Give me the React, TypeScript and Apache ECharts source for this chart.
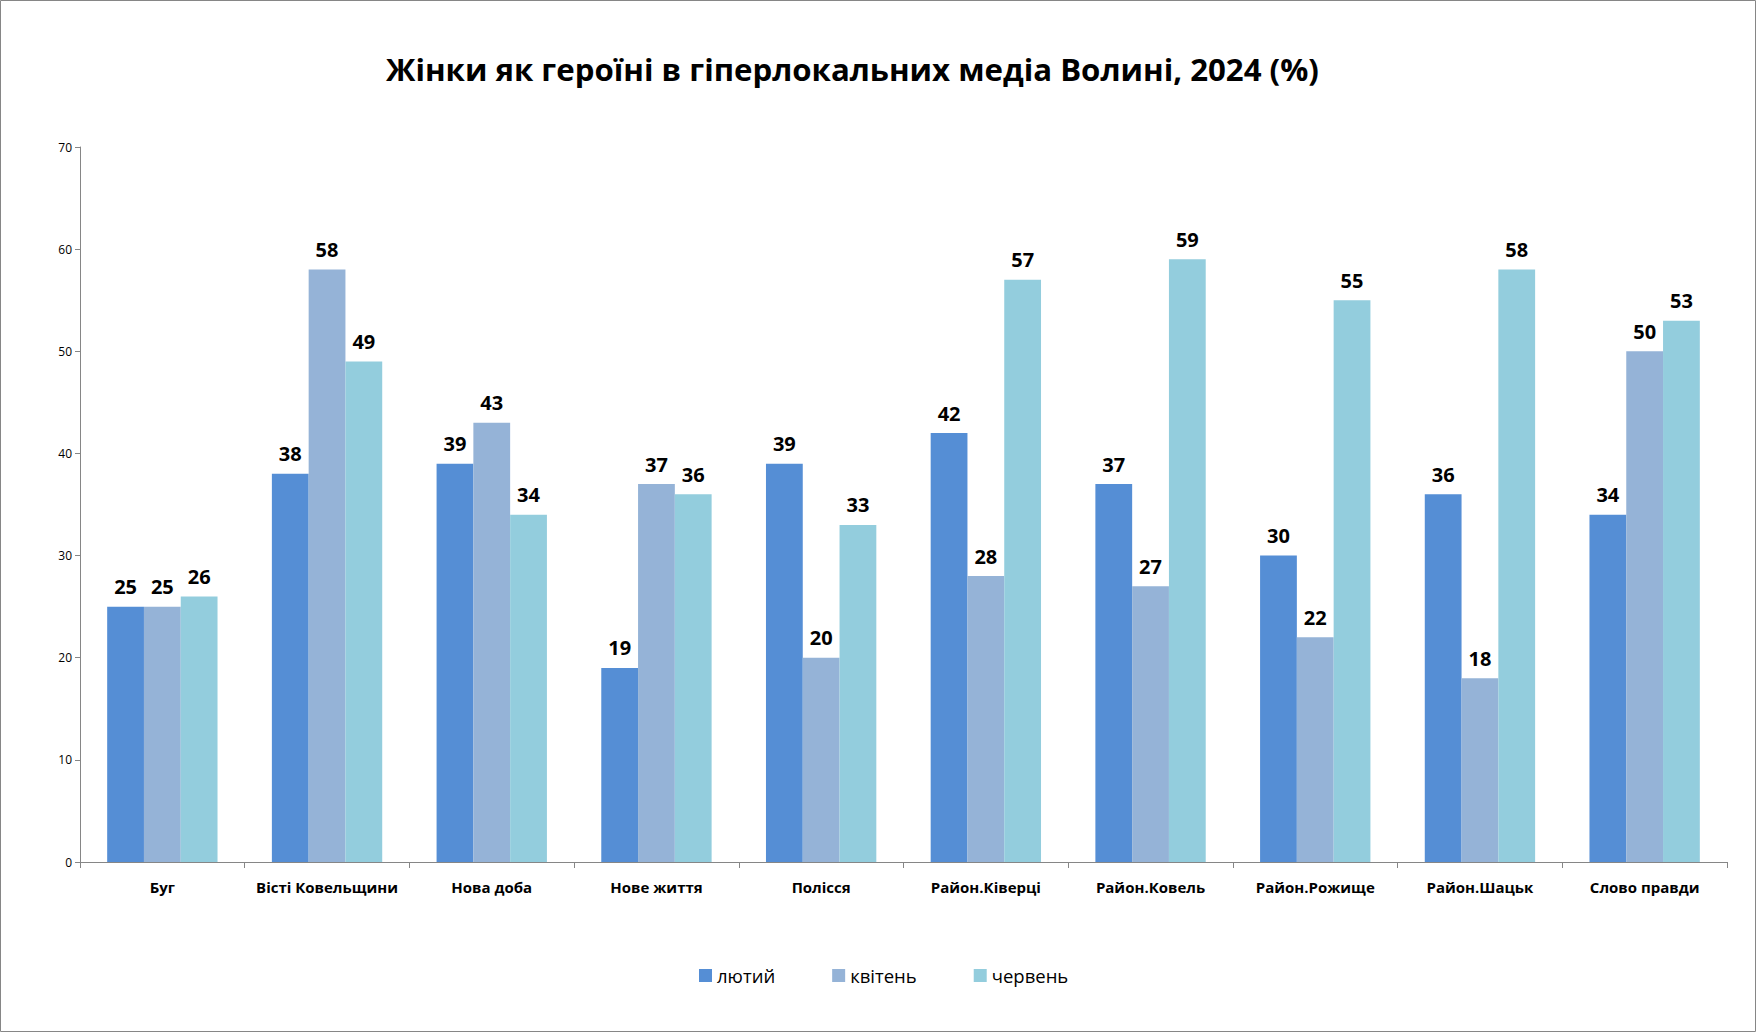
import React, { useEffect, useRef } from "react";
import * as echarts from "echarts";

const categories = [
  "Буг",
  "Вісті Ковельщини",
  "Нова доба",
  "Нове життя",
  "Полісся",
  "Район.Ківерці",
  "Район.Ковель",
  "Район.Рожище",
  "Район.Шацьк",
  "Слово правди",
];
const seriesNames = ["лютий", "квітень", "червень"];
const february = [25, 38, 39, 19, 39, 42, 37, 30, 36, 34];
const april = [25, 58, 43, 37, 20, 28, 27, 22, 18, 50];
const june = [26, 49, 34, 36, 33, 57, 59, 55, 58, 53];
const colors = ["#558ED5", "#95B3D7", "#93CDDD"];
const titleText = "Жінки як героїні в гіперлокальних медіа Волині, 2024 (%)";

const FONT = "'Open Sans', 'Noto Sans', sans-serif";

export default function App() {
  const ref = useRef<HTMLDivElement>(null);
  useEffect(() => {
    document.body.style.margin = "0";
    if (!ref.current) return;
    const chart = echarts.init(ref.current, null, { renderer: "svg" });
    const data = [february, april, june];
    chart.setOption({
      animation: false,
      backgroundColor: "#ffffff",
      title: {
        text: titleText,
        left: 381,
        top: 48,
        textStyle: {
          fontFamily: FONT,
          fontWeight: "bold",
          fontSize: 31.2,
          color: "#000000",
        },
      },
      graphic: [
        {
          type: "rect",
          shape: { x: 0.5, y: 0.5, width: 1755, height: 1031 },
          style: { fill: "none", stroke: "#868686", lineWidth: 1 },
          silent: true,
        },
      ],
      legend: {
        data: seriesNames,
        bottom: 42,
        left: 694,
        itemWidth: 13,
        itemHeight: 13,
        itemGap: 57,
        icon: "rect",
        textStyle: { fontFamily: FONT, fontSize: 18.5, color: "#000000" },
      },
      grid: { left: 80, right: 29, top: 147, bottom: 170, containLabel: false },
      xAxis: {
        type: "category",
        data: categories,
        axisLine: { lineStyle: { color: "#868686", width: 1 } },
        axisTick: { show: true, length: 6, alignWithLabel: false, lineStyle: { color: "#868686" } },
        axisLabel: {
          interval: 0,
          margin: 17,
          fontFamily: FONT,
          fontWeight: "bold",
          fontSize: 15,
          color: "#000000",
        },
      },
      yAxis: {
        type: "value",
        min: 0,
        max: 70,
        interval: 10,
        axisLine: { show: true, lineStyle: { color: "#868686", width: 1 } },
        axisTick: { show: true, length: 5, lineStyle: { color: "#868686" } },
        splitLine: { show: false },
        axisLabel: { fontFamily: FONT, fontSize: 12, color: "#000000", margin: 8 },
      },
      series: seriesNames.map((name, i) => ({
        name,
        type: "bar",
        data: data[i],
        barGap: "0%",
        barCategoryGap: "33%",
        itemStyle: { color: colors[i] },
        label: {
          show: true,
          position: "top",
          distance: 10,
          fontFamily: FONT,
          fontWeight: "bold",
          fontSize: 20,
          color: "#000000",
        },
      })),
    });
    return () => chart.dispose();
  }, []);
  return <div ref={ref} style={{ width: 1756, height: 1032 }} />;
}
